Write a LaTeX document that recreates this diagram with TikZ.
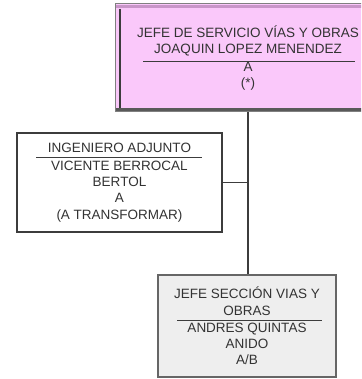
\documentclass[tikz,border=0pt]{standalone}
\usepackage{fontspec}
\setmainfont{Liberation Sans}
\definecolor{pinkfill}{RGB}{250,200,250}
\definecolor{pinkdark}{RGB}{200,150,200}
\definecolor{boxgray}{RGB}{238,238,238}
\definecolor{linec}{RGB}{60,60,60}
\tikzset{
  box/.style={rectangle, draw=linec, line width=1.1pt, align=center, inner sep=0pt,
    font=\fontsize{13.5}{16.4}\selectfont, text=black!80},
  hrule/.style={draw=linec, line width=0.9pt},
  link/.style={draw=linec, line width=1.2pt}
}
\begin{document}
\begin{tikzpicture}[x=1pt,y=-1pt]
\useasboundingbox (0,0) rectangle (361,379);
\clip (0,0) rectangle (361,379);
% top box
\node[box, fill=pinkfill, draw=gray, line width=1pt, minimum width=266pt, minimum height=108pt] (jefe) at (248,58)
  {JEFE DE SERVICIO VÍAS Y OBRAS\\ JOAQUIN LOPEZ MENENDEZ\\[1.5pt] A\\ (*)};
\draw[pinkdark, line width=2.5pt] (116,6.5) -- (380,6.5);
\draw[linec, line width=1.2pt] (120,9) -- (120,108);
\draw[linec!85, line width=3pt] (116,110) -- (380,110);
\draw[hrule] (143,61) -- (355,61);
% left box
\node[box, fill=white, minimum width=205pt, minimum height=99pt] (adj) at (119.5,182.5)
  {INGENIERO ADJUNTO\\[1.5pt] VICENTE BERROCAL\\ BERTOL\\ A\\ (A TRANSFORMAR)};
\draw[hrule] (36,157) -- (202,157);
% bottom box
\node[box, fill=boxgray, draw=gray!80!black, minimum width=178pt, minimum height=102pt] (secc) at (247,326)
  {JEFE SECCIÓN VIAS Y\\ OBRAS\\[0.5pt] ANDRES QUINTAS\\ ANIDO\\ A/B};
\draw[hrule] (177,320) -- (322,320);
% connectors
\draw[link] (jefe.south) -- (jefe.south |- secc.north);
\draw[link] (adj.east) -- (adj.east -| jefe.south);
\end{tikzpicture}
\end{document}
